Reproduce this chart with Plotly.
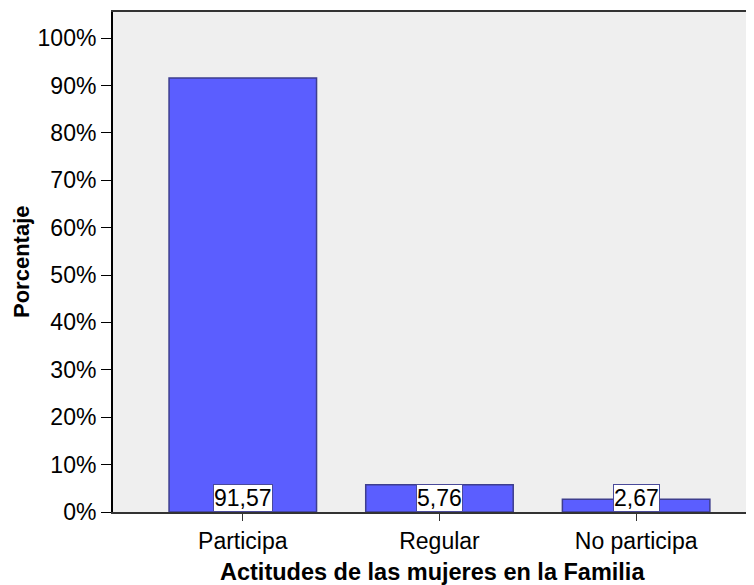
import plotly.graph_objects as go

categorias = ["Participa", "Regular", "No participa"]
porcentajes = [91.57, 5.76, 2.67]
etiquetas = ["91,57", "5,76", "2,67"]
ticks_y = [0, 10, 20, 30, 40, 50, 60, 70, 80, 90, 100]
ticks_y_txt = [f"{v}%" for v in ticks_y]

fuente = "Liberation Sans, Arial, sans-serif"

# la pagina tiene 8px de margen: se corre la figura 8px arriba/izquierda
W, H = 754, 577
L, B = 105, 73

fig = go.Figure()
fig.add_trace(
    go.Bar(
        x=categorias,
        y=porcentajes,
        width=0.75,
        marker=dict(color="#5B5EFF", line=dict(color="#3E3E8E", width=1.5)),
        showlegend=False,
    )
)

for cat, val, txt in zip(categorias, porcentajes, etiquetas):
    fig.add_annotation(
        x=cat, y=0, yanchor="bottom", text=txt, showarrow=False,
        font=dict(family=fuente, size=23, color="black"),
        bgcolor="white", bordercolor="#4A4A9A", borderwidth=1, borderpad=0,
    )

# titulos de ejes como anotaciones para fijar su posicion
fig.add_annotation(
    text="<b>Actitudes de las mujeres en la Familia</b>",
    xref="paper", yref="paper", x=(424 - L) / (W - L), y=0, yshift=-60,
    xanchor="center", yanchor="middle", showarrow=False,
    font=dict(family=fuente, size=23.5, color="black"),
)
fig.add_annotation(
    text="<b>Porcentaje</b>", textangle=-90,
    xref="paper", yref="paper", x=0, xshift=-92, y=0.5,
    xanchor="center", yanchor="middle", showarrow=False,
    font=dict(family=fuente, size=22, color="black"),
)

fig.update_layout(
    width=W, height=H,
    margin=dict(l=L, r=0, t=4, b=B),
    paper_bgcolor="white",
    plot_bgcolor="#EFEFEF",
    font=dict(family=fuente, size=23, color="black"),
)
fig.update_xaxes(
    type="category", range=[-0.66, 2.64], automargin=False,
    showline=True, linecolor="#333333", linewidth=2, mirror=True,
    ticks="outside", ticklen=7, tickcolor="#333333",
    showgrid=False,
)
fig.update_yaxes(
    range=[0, 105.5], tickvals=ticks_y, ticktext=ticks_y_txt, automargin=False,
    showline=True, linecolor="black", linewidth=2,
    ticks="outside", ticklen=10, tickcolor="black",
    showgrid=False, zeroline=False,
)

fig.write_html("out.html")
